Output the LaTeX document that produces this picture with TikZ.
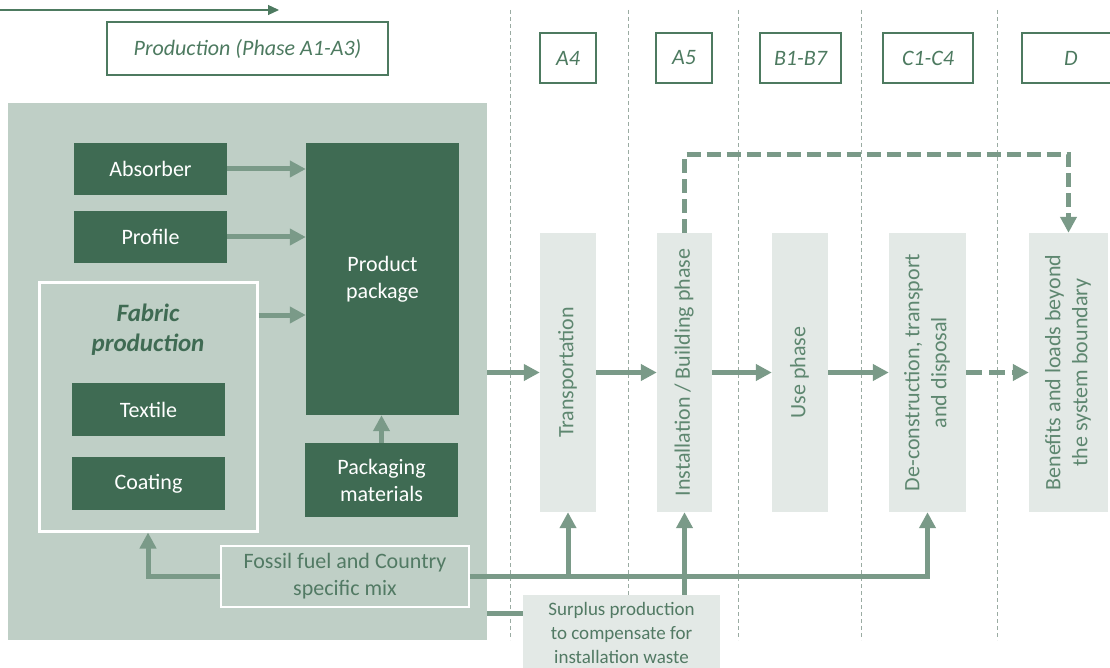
\documentclass[tikz,border=0pt]{standalone}
\usepackage{fontspec}
\setmainfont{Carlito}
\usepackage{graphicx}
\usetikzlibrary{arrows.meta,positioning}

\definecolor{darkgreen}{HTML}{3F6B53}
\definecolor{panelfill}{HTML}{BFCFC6}
\definecolor{phasefill}{HTML}{E3E9E6}
\definecolor{arrowgreen}{HTML}{7A9A88}
\definecolor{hdrgreen}{HTML}{4D7A60}
\definecolor{softtext}{HTML}{527A64}
\definecolor{phasetext}{HTML}{5E8770}
\definecolor{sepgray}{HTML}{9AABA2}

\newcommand{\vtext}[1]{\rotatebox{90}{\begin{tabular}{@{}c@{}}#1\end{tabular}}}

\begin{document}
\begin{tikzpicture}[x=1pt,y=-1pt,>=Stealth,
	every node/.style={inner sep=0pt,font=\fontsize{22}{27}\selectfont},
	darkbox/.style={fill=darkgreen,text=white,minimum width=153pt,align=center},
	phasebox/.style={fill=phasefill,text=phasetext,minimum height=279pt},
	hdr/.style={draw=hdrgreen,line width=1.6pt,text=hdrgreen,minimum height=50pt,
		font=\fontsize{22}{27}\selectfont\itshape},
	flow/.style={draw=arrowgreen,line width=5pt,-{Triangle[length=16pt,width=16pt]}},
	sep/.style={draw=sepgray,line width=0.7pt,dash pattern=on 4pt off 3pt}]
	\useasboundingbox (0,0) rectangle (1110,668);
	\clip (0,0) rectangle (1110,668);

	\foreach \x in {510,628,738,861,997} {
		\draw[sep] (\x,10) -- (\x,640);
	};

	\coordinate (flowstart) at (0,10);
	\coordinate (flowend) at (279,10);
	\draw[hdrgreen,line width=1.2pt,-{Triangle[length=11pt,width=10pt]}] (flowstart) -- (flowend);

	\node[hdr,minimum width=281pt,minimum height=53pt] (hprod) at (247.5,48.5) {Production (Phase A1-A3)};
	\foreach \n/\x/\w/\t in {a4/568/56/A4, a5/684/56/A5, b/800.5/81/B1-B7, c/928/90/C1-C4, d/1071/98/D} {
		\node[hdr,minimum width=\w pt] (h\n) at (\x,58) {\t};
	};

	\node[fill=panelfill,minimum width=479pt,minimum height=537pt] (panel) at (247.5,371.5) {};
	\node[darkbox,minimum height=52pt] (absorber) at (150.5,169) {Absorber};
	\node[darkbox,minimum height=52pt] (profile) at (150.5,237) {Profile};
	\node[darkbox,minimum height=272pt] (product) at (382.5,279) {Product\\package};
	\node[draw=white,line width=3pt,minimum width=218pt,minimum height=249pt] (fabric) at (148,406.5) {};
	\node[text=darkgreen,align=center,font=\fontsize{25}{30}\selectfont\bfseries\itshape] (fablabel) at (148,330) {Fabric\\production};
	\node[darkbox,minimum height=53pt] (textile) at (148.5,409.5) {Textile};
	\node[darkbox,minimum height=53pt] (coating) at (148.5,483.5) {Coating};
	\node[darkbox,minimum height=74pt] (pack) at (381.5,480) {Packaging\\materials};
	\node[draw=white,line width=1.5pt,text=softtext,minimum width=248pt,minimum height=61pt,align=center] (fossil) at (345,576.5) {Fossil fuel and Country\\specific mix};

	\foreach \n/\x/\w/\t in {trans/568/56/Transportation,
			inst/684.5/55/{Installation / Building phase},
			use/800/56/Use phase,
			decon/927.5/77/{De-construction, transport\\and disposal},
			benef/1068.5/79/{Benefits and loads beyond\\the system boundary}} {
		\node[phasebox,minimum width=\w pt] (\n) at (\x,372.5) {\vtext{\t}};
	};

	\node[fill=phasefill,text=softtext,minimum width=197pt,minimum height=76pt,align=center,
		font=\fontsize{19}{24}\selectfont] (surplus) at (621.5,633) {Surplus production\\to compensate for\\installation waste};

	\draw[flow] (absorber.east) -- (absorber.east -| product.west);
	\draw[flow] (profile.east) -- (profile.east -| product.west);
	\coordinate (fabout) at ([yshift=91.5pt]fabric.east);
	\draw[flow] (fabout) -- (fabout -| product.west);
	\draw[flow] (pack.north) -- (pack.north |- product.south);

	\draw[flow] (panel.east |- trans) -- (trans);
	\foreach \a/\b in {trans/inst,inst/use,use/decon} {
		\draw[flow] (\a) -- (\b);
	};
	\draw[flow,dash pattern=on 16pt off 7pt] (decon) -- (benef);
	\coordinate (looptop) at (1068.5,155);
	\draw[flow,dash pattern=on 14pt off 6pt] (inst.north) |- (looptop) -- (benef.north);

	\draw[flow] (fossil.west) -| (fabric.south);
	\draw[flow] (fossil.east) -| (decon.south);
	\draw[flow] (trans.south |- fossil.east) -- (trans.south);
	\coordinate (surin) at ([yshift=20pt]surplus.west);
	\draw[flow,-] (panel.east |- surin) -- (surin);
	\draw[flow] (inst.south |- surplus.north) -- (inst.south);
\end{tikzpicture}
\end{document}
